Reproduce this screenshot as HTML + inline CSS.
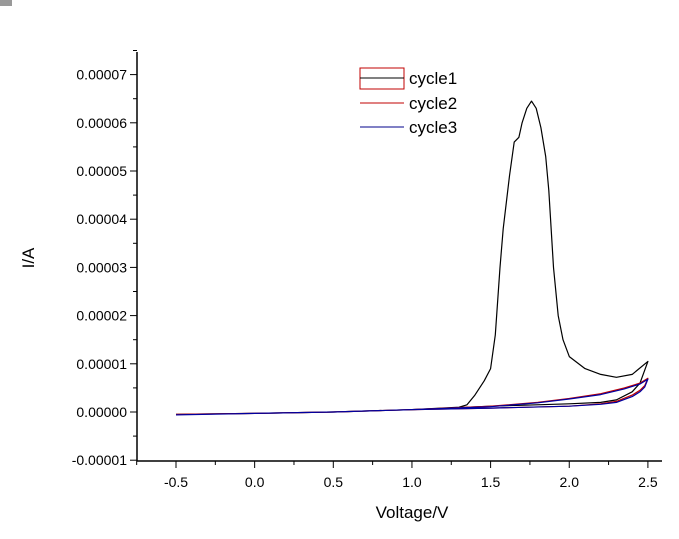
<!DOCTYPE html>
<html><head><meta charset="utf-8"><style>
body{margin:0;background:#fff;}
svg text{font-family:"Liberation Sans",Arial,sans-serif;fill:#000;}
</style></head><body>
<svg id="c" width="679" height="534" xmlns="http://www.w3.org/2000/svg">
<rect x="0" y="0" width="12" height="6" fill="#999"/>
<g id="axes"></g><g id="plot"></g>
<g>
<rect x="360" y="68" width="44" height="21" fill="none" stroke="#c00000" stroke-width="1"/>
<line x1="360" y1="78" x2="404" y2="78" stroke="#000"/>
<text x="409" y="84" font-size="17">cycle1</text>
<line x1="360" y1="103" x2="404" y2="103" stroke="#c00000"/>
<text x="409" y="109" font-size="17">cycle2</text>
<line x1="360" y1="127" x2="404" y2="127" stroke="#00008b"/>
<text x="409" y="133" font-size="17">cycle3</text>
</g>
<text x="412" y="518" font-size="17" text-anchor="middle">Voltage/V</text>
<text transform="translate(34,258) rotate(-90)" font-size="17" text-anchor="middle">I/A</text>
</svg>
<script>
const xTicks=[-0.5,0,0.5,1,1.5,2,2.5];
const xTickLabels=["-0.5","0.0","0.5","1.0","1.5","2.0","2.5"];
const yTicks=[-1,0,1,2,3,4,5,6,7];
const yTickLabels=["-0.00001","0.00000","0.00001","0.00002","0.00003","0.00004","0.00005","0.00006","0.00007"];
// values in units of 1e-5 A
const c1V=[-0.5,0,0.5,1.0,1.3,1.35,1.4,1.46,1.5,1.53,1.56,1.58,1.62,1.65,1.68,1.7,1.73,1.76,1.79,1.82,1.85,1.87,1.9,1.93,1.96,2.0,2.1,2.2,2.3,2.4,2.5,2.45,2.4,2.3,2.2,2.0,1.5,1.0,0.5,0,-0.5];
const c1I=[-0.05,-0.03,0.0,0.05,0.1,0.15,0.35,0.65,0.9,1.6,3.0,3.8,4.9,5.6,5.7,6.0,6.3,6.45,6.3,5.9,5.3,4.6,3.0,2.0,1.5,1.15,0.9,0.78,0.72,0.78,1.05,0.6,0.42,0.25,0.2,0.17,0.12,0.05,0.0,-0.03,-0.05];
const c2V=[-0.5,0,0.5,1.0,1.5,1.8,2.0,2.2,2.35,2.45,2.5,2.48,2.45,2.4,2.3,2.2,2.0,1.5,1.0,0.5,0,-0.5];
const c2I=[-0.05,-0.03,0.0,0.05,0.12,0.2,0.28,0.38,0.5,0.6,0.7,0.55,0.45,0.35,0.22,0.17,0.12,0.08,0.05,0.0,-0.03,-0.05];
const c3V=[-0.5,0,0.5,1.0,1.5,1.8,2.0,2.2,2.35,2.45,2.5,2.48,2.45,2.4,2.3,2.2,2.0,1.5,1.0,0.5,0,-0.5];
const c3I=[-0.06,-0.03,0.0,0.05,0.11,0.19,0.27,0.36,0.48,0.58,0.68,0.52,0.42,0.32,0.2,0.16,0.12,0.08,0.05,0.0,-0.03,-0.06];
const NS="http://www.w3.org/2000/svg";
const xs=v=>176+(v+0.5)*157.3;
const ys=i=>412-i*48.2;
const axes=document.getElementById('axes'),plot=document.getElementById('plot');
function mk(t,a,p){const e=document.createElementNS(NS,t);for(const k in a)e.setAttribute(k,a[k]);p.appendChild(e);return e;}
let e=mk('line',{x1:137,y1:52,x2:137,y2:461,stroke:'#000','stroke-width':1.5},axes);


e=mk('line',{x1:137,y1:461,x2:662,y2:461,stroke:'#000','stroke-width':1.5},axes);


xTicks.forEach((v,k)=>{
 mk('line',{x1:xs(v),y1:461,x2:xs(v),y2:468,stroke:'#000'},axes);
 if(k<xTicks.length-1)mk('line',{x1:xs(v+0.25),y1:461,x2:xs(v+0.25),y2:465,stroke:'#000'},axes);
 const t=mk('text',{x:xs(v),y:487,'font-size':14,'text-anchor':'middle'},axes);t.textContent=xTickLabels[k];
 
 
});
mk('line',{x1:xs(-0.75),y1:461,x2:xs(-0.75),y2:465,stroke:'#000'},axes);
yTicks.forEach((v,k)=>{
 mk('line',{x1:130,y1:ys(v),x2:137,y2:ys(v),stroke:'#000'},axes);
 mk('line',{x1:133,y1:ys(v+0.5),x2:137,y2:ys(v+0.5),stroke:'#000'},axes);
 const t=mk('text',{x:127,y:ys(v)+5,'font-size':14,'text-anchor':'end'},axes);t.textContent=yTickLabels[k];
 
 
});
function series(V,I,col,name){
 const d=V.map((v,k)=>(k?'L':'M')+xs(v).toFixed(1)+','+ys(I[k]).toFixed(1)).join('');
 const p=mk('path',{d:d,fill:'none',stroke:col,'stroke-width':1.2,'stroke-linejoin':'round'},plot);
 
 
}
series(c1V,c1I,'#000','line-cycle1');
series(c2V,c2I,'#c00000','line-cycle2');
series(c3V,c3I,'#0000a0','line-cycle3');
</script>
</body></html>
